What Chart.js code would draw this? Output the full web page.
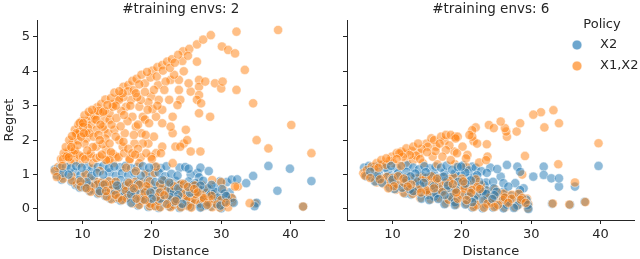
<!DOCTYPE html>
<html>
<head>
<meta charset="utf-8">
<script src="https://cdn.jsdelivr.net/npm/chart.js@4.4.0/dist/chart.umd.min.js"></script>
<style>
  html, body { margin: 0; padding: 0; background: #fff; }
  #wrap { position: relative; width: 640px; height: 259px; }
  #left { position: absolute; left: 0; top: 0; }
  #right { position: absolute; left: 330px; top: 0; }
</style>
</head>
<body>
<div id="wrap">
  <canvas id="left" width="330" height="259"></canvas>
  <canvas id="right" width="310" height="259"></canvas>
</div>
<script>
// data: [distance, regret]
const policies = ["X2", "X1,X2"];
const panelTitles = ["#training envs: 2", "#training envs: 6"];
const xTicks = [10, 20, 30, 40];
const yTicks = [0, 1, 2, 3, 4, 5];

// --- 2 training envs, policy X2 (blue)
const env2X2 = [
  [6.0,1.15],[6.8,1.2],[7.6,1.22],[8.3,1.18],[9.1,1.24],[9.9,1.2],[10.7,1.23],[11.4,1.17],[12.2,1.22],[13.0,1.25],
  [13.8,1.19],[14.6,1.23],[15.4,1.21],[16.2,1.25],[17.0,1.18],[17.9,1.22],[18.7,1.24],[19.6,1.2],[20.4,1.23],[21.3,1.19],
  [22.1,1.24],[24.0,1.2],[24.8,1.22],[25.3,1.17],[26.6,1.05],[27.0,1.2],[28.2,1.1],
  [6.3,0.98],[7.2,1.05],[8.0,1.0],[8.9,1.06],[9.7,0.98],[10.5,1.04],[11.3,0.96],[12.1,1.05],[13.0,1.0],[13.9,1.06],
  [14.8,0.97],[15.7,1.04],[16.6,0.99],[17.5,1.05],[18.4,0.97],[19.2,1.04],[20.1,0.99],[21.0,1.06],[21.9,0.95],[22.8,1.02],
  [23.7,0.97],[25.6,1.0],[26.8,0.92],
  [7.0,0.85],[8.4,0.8],[9.5,0.84],[10.6,0.78],[11.7,0.83],[12.6,0.76],[13.6,0.82],[14.6,0.77],[15.5,0.84],[16.5,0.78],
  [17.5,0.82],[18.5,0.76],[19.5,0.83],[20.5,0.78],[21.5,0.85],[22.5,0.77],[23.4,0.82],[24.4,0.74],[25.3,0.8],[26.3,0.75],
  [27.4,0.82],[28.6,0.7],[29.8,0.8],[30.8,0.78],
  [9.0,0.7],[11.0,0.68],[13.0,0.7],[15.0,0.68],[17.0,0.7],[19.0,0.68],[21.0,0.7],[23.0,0.68],[25.0,0.66],[27.0,0.68],[29.0,0.64],
  [10.0,0.75],[12.0,0.7],[14.0,0.72],[16.0,0.66],[18.0,0.72],[20.0,0.66],[22.0,0.72],[24.0,0.7],[26.0,0.7],
  [9.6,0.62],[10.4,0.62],[11.6,0.56],[12.8,0.62],[13.9,0.55],[15.0,0.6],[16.1,0.55],[17.2,0.62],[18.3,0.56],[19.4,0.6],
  [20.5,0.54],[21.6,0.62],[22.7,0.55],[23.8,0.6],[24.9,0.52],[25.9,0.6],[27.0,0.55],[28.0,0.6],[29.1,0.5],[30.1,0.58],[31.2,0.48],
  [11.0,0.52],[13.2,0.5],[15.4,0.48],[17.6,0.5],[19.8,0.48],[22.0,0.5],[24.2,0.47],[26.4,0.5],[28.6,0.46],[30.5,0.45],
  [12.5,0.52],[14.5,0.5],[16.6,0.46],[18.8,0.5],[21.0,0.47],[23.2,0.5],[25.5,0.47],[27.6,0.48],
  [12.2,0.44],[13.3,0.38],[14.6,0.43],[15.8,0.36],[17.0,0.42],[18.2,0.35],[19.3,0.41],[20.4,0.36],[21.6,0.42],[22.7,0.34],
  [23.8,0.4],[25.0,0.35],[26.1,0.41],[27.3,0.34],[28.4,0.4],[29.5,0.33],[30.7,0.38],[31.6,0.3],
  [14.0,0.3],[16.2,0.3],[18.8,0.28],[21.2,0.3],[23.6,0.28],[26.0,0.28],[28.6,0.27],[31.0,0.26],
  [15.0,0.3],[17.6,0.28],[20.0,0.3],[22.4,0.28],[24.8,0.3],[27.3,0.26],[29.8,0.28],
  [15.5,0.24],[17.0,0.18],[18.3,0.23],[19.6,0.17],[20.8,0.22],[22.0,0.16],[23.2,0.21],[24.4,0.15],[25.6,0.2],[26.8,0.14],
  [28.0,0.2],[29.2,0.15],[30.5,0.2],[31.8,0.18],
  [18.0,0.1],[20.3,0.1],[23.0,0.1],[25.0,0.11],[27.8,0.1],[29.9,0.1],
  [19.5,0.06],[21.0,0.03],[22.5,0.07],[24.0,0.03],[25.5,0.06],[27.0,0.04],[28.5,0.07],[30.0,0.02],
  [31.5,0.85],[32.3,0.86],[33.6,0.75],[34.6,0.96],[36.8,1.25],[38.1,0.53],[39.9,1.17],[43.0,0.81],[35.1,0.18],[34.8,0.08],[41.8,0.07]
];

// --- 2 training envs, policy X1,X2 (orange)
const env2X1X2 = [
  [6.5,1.22],[6.9,1.45],[7.3,1.62],[7.6,1.8],[8.1,2.0],[8.5,2.12],[8.9,2.3],[9.4,2.45],[9.9,2.55],[10.3,2.72],
  [10.9,2.82],[11.4,2.88],[12.1,2.95],[12.7,3.05],[13.3,3.18],[14.1,3.22],[14.6,3.38],[15.3,3.42],[15.9,3.55],[16.6,3.6],
  [17.2,3.72],[17.8,3.78],[18.5,3.9],[19.3,3.98],[20.1,4.02],[20.8,4.12],[21.5,4.18],[22.2,4.28],[22.9,4.35],[23.8,4.48],
  [24.5,4.58],[25.4,4.65],[26.5,4.78],[27.4,4.92],[28.5,5.05],
  [7.1,1.25],[7.6,1.55],[8.1,1.7],[8.6,1.92],[9.1,2.15],[9.6,2.25],[10.1,2.5],[10.6,2.55],[11.2,2.68],[11.7,2.72],
  [12.3,2.85],[13.0,2.82],[13.6,3.02],[14.4,3.05],[15.2,3.22],[15.9,3.25],[16.6,3.42],[17.4,3.45],[18.2,3.62],[19.0,3.65],
  [19.8,3.82],[20.7,3.85],[21.6,4.02],[22.6,4.1],[23.3,4.25],[24.4,4.3],[25.2,4.45],
  [12.5,2.78],[10.8,2.35],[9.6,2.5],[8.4,1.8],[8.2,1.52],[8.7,1.62],[10.3,1.9],[11.0,2.2],[11.5,1.8],[12.5,2.0],
  [13.4,1.72],[13.7,2.2],[14.6,2.3],[15.3,2.0],[14.9,2.64],[16.0,2.73],[16.3,2.97],[17.0,3.17],[17.2,2.68],[17.7,2.39],
  [18.4,3.17],[19.4,2.88],[19.9,3.27],[20.3,3.46],[21.0,3.17],[21.5,2.88],[21.8,3.46],[22.5,3.17],[22.7,3.75],[23.9,3.75],
  [23.9,3.46],[24.1,3.17],[23.7,3.02],[25.3,3.65],[25.6,3.41],[26.8,3.55],[26.8,3.31],[26.5,3.17],[27.1,3.07],[26.8,2.78],
  [26.8,3.75],[26.5,4.28],[27.7,3.7],[29.1,3.65],[30.0,3.5],[30.2,3.7],[30.1,4.72],[31.0,4.62],[32.0,4.52],[32.2,3.46],
  [32.2,5.15],[33.4,4.04],[34.6,3.07],[38.2,5.2],[40.1,2.44],[35.1,2.0],[36.8,1.76],[43.0,1.62],[28.4,2.68],[27.0,1.67],
  [25.6,1.67],[24.9,2.3],[25.1,2.0],[24.1,1.81],[23.4,1.81],[24.6,1.9],[23.0,2.2],[22.7,2.39],[21.5,1.81],[21.3,1.62],
  [20.6,1.62],[19.9,1.52],[19.1,2.15],[18.7,1.9],[17.5,1.9],[17.2,1.62],[16.8,1.42],[15.8,1.81],[14.9,1.52],[13.9,1.42],
  [13.4,1.42],[12.5,1.52],[12.0,1.81],[11.0,1.52],[10.1,1.52],[9.4,2.0],[9.1,2.2],[12.0,2.59],[13.2,2.59],[13.9,2.78],
  [14.4,2.97],[15.3,3.17],[15.8,3.36],[17.7,3.36],[18.2,2.97],[18.7,2.68],[19.6,2.49],[20.6,2.68],[23.0,2.68],[21.5,2.49],
  [13.9,2.59],[12.95,2.39],[12.0,2.3],[10.6,2.2],[10.1,2.39],[7.7,1.52],[9.6,1.33],[11.5,1.33],[14.4,1.33],[18.2,1.33],
  [20.6,1.23],[23.0,1.33],
  [7.9,1.6],[8.3,1.35],[8.9,1.7],[9.3,1.85],[9.8,2.1],[10.2,2.2],[10.6,2.05],[11.3,2.45],[11.8,2.6],[11.6,2.1],
  [12.3,2.15],[12.6,2.45],[13.1,2.3],[13.3,2.05],[13.9,1.9],[14.2,2.45],[14.8,2.1],[15.5,2.4],[15.6,2.85],[16.1,2.2],
  [16.5,2.55],[16.9,3.0],[17.4,2.15],[18.0,2.45],[18.5,2.2],[19.0,2.6],[19.5,3.1],[20.1,2.9],[20.8,3.0],[10.7,1.7],
  [9.2,1.6],[12.9,1.88],[14.1,1.65],[15.9,1.95],[16.6,1.75],[18.0,1.75],[19.5,1.9],[20.3,2.1],[13.2,2.85],[14.8,3.0],
  [17.9,3.25],[19.0,3.4],[20.9,3.6],[22.0,3.7],[23.2,3.9],[24.6,4.0],
  [7.2,1.45],[8.0,1.5],[8.8,1.42],[9.6,1.55],[10.4,1.45],[11.2,1.6],[12.0,1.48],[12.8,1.58],[13.6,1.45],[14.4,1.6],
  [15.2,1.5],[16.0,1.62],[16.8,1.45],[17.6,1.58],[18.4,1.5],[19.2,1.62],[20.0,1.45],
  [7.2,0.88],[8.5,0.83],[9.7,0.8],[10.8,0.8],[11.9,0.8],[12.8,0.78],[13.8,0.8],[14.8,0.79],[16.7,0.76],[17.7,0.8],
  [18.7,0.78],[19.7,0.8],[21.7,0.82],[22.7,0.75],[24.6,0.72],[26.5,0.73],[28.7,0.84],[30.0,0.78],
  [9.2,0.72],[11.2,0.66],[13.2,0.72],[15.2,0.66],[17.2,0.72],[19.2,0.66],[21.2,0.72],[23.2,0.66],[25.2,0.64],[27.2,0.7],
  [10.2,0.73],[12.2,0.72],[14.2,0.7],[16.2,0.68],[18.2,0.7],[20.2,0.68],[22.2,0.7],[24.2,0.72],[26.2,0.68],
  [9.8,0.64],[10.6,0.6],[11.8,0.58],[13.0,0.6],[14.1,0.53],[15.2,0.62],[16.3,0.53],[17.4,0.6],[18.5,0.58],[19.6,0.62],
  [21.8,0.6],[22.9,0.53],[24.0,0.58],[26.1,0.58],[27.2,0.53],[28.2,0.62],[30.3,0.56],[32.0,0.65],
  [11.2,0.5],[13.4,0.52],[15.6,0.46],[17.8,0.52],[20.0,0.46],[22.2,0.52],[24.4,0.45],[26.6,0.48],[28.8,0.44],
  [12.7,0.5],[14.7,0.52],[16.8,0.48],[19.0,0.48],[21.2,0.49],[23.4,0.48],[25.7,0.49],[27.8,0.46],
  [12.4,0.46],[13.5,0.36],[14.8,0.41],[16.0,0.38],[17.2,0.4],[18.4,0.33],[19.5,0.43],[20.6,0.34],[21.8,0.4],[22.9,0.36],
  [24.0,0.38],[25.2,0.33],[26.3,0.43],[27.5,0.32],[28.6,0.38],[29.7,0.35],[30.9,0.36],[31.5,0.32],
  [14.2,0.28],[16.4,0.32],[19.0,0.26],[21.4,0.28],[23.8,0.3],[26.2,0.26],[28.8,0.29],
  [15.2,0.32],[17.8,0.3],[20.2,0.28],[22.6,0.3],[25.0,0.28],[27.5,0.28],[30.0,0.26],
  [15.7,0.26],[17.2,0.16],[18.5,0.25],[19.8,0.15],[21.0,0.24],[22.2,0.14],[23.4,0.23],[24.6,0.13],[25.8,0.22],[27.0,0.16],
  [28.2,0.18],[29.4,0.13],[30.7,0.18],[31.6,0.2],
  [18.2,0.12],[20.5,0.08],[23.2,0.12],[25.2,0.09],[28.0,0.12],[30.1,0.08],
  [19.7,0.08],[21.2,0.05],[22.7,0.05],[24.2,0.05],[25.7,0.04],[27.2,0.06],[28.7,0.05],[29.8,0.04],[31.0,0.05],
  [6.0,1.1],[6.3,0.93],[7.0,0.97],[8.4,0.96],[11.0,0.9],[12.5,1.1],[16.3,1.2],[17.7,1.1],[19.1,1.02],[20.4,1.05],
  [10.4,1.0],[34.9,0.16],[41.8,0.07],[34.1,0.17],[32.4,0.65]
];

// --- 6 training envs, policy X2 (blue)
const env6X2 = [
  [5.9,1.2],[6.6,1.25],[7.4,1.22],[8.2,1.27],[9.0,1.2],[9.8,1.25],[10.6,1.18],[11.4,1.24],[12.2,1.27],[13.0,1.2],
  [13.8,1.15],[14.6,1.24],[15.4,1.18],[16.2,1.23],[17.0,1.2],[17.8,1.26],[18.6,1.14],[19.4,1.22],[20.2,1.27],[21.0,1.12],
  [22.0,1.2],[22.8,1.1],[23.6,1.05],
  [6.8,1.08],[8.0,1.05],[9.4,1.1],[10.8,1.04],[12.0,1.08],[13.3,1.03],[14.8,1.07],[16.0,1.02],[17.5,1.06],[19.0,1.03],
  [20.5,1.06],[22.2,0.98],
  [19.9,1.23],[21.5,1.23],[24.1,1.2],[25.1,1.16],[26.5,1.28],[28.0,1.23],[28.4,1.08],[25.6,0.94],[24.5,0.79],[26.0,0.75],
  [27.7,0.75],[26.7,0.65],[28.4,0.55],[28.9,0.6],[30.3,0.94],[31.8,1.23],[31.8,0.99],[32.9,0.89],[34.0,0.89],[34.0,0.65],
  [36.3,0.65],[39.7,1.25],[21.8,0.94],[22.5,0.79],[21.3,0.83],[23.2,0.69],[26.0,0.5],[19.9,0.99],
  [6.2,0.95],[7.0,0.92],[7.8,0.97],[8.6,0.9],[9.4,0.96],[10.2,0.93],[11.0,0.97],[11.8,0.91],[12.6,0.95],[13.4,0.9],
  [14.2,0.96],[15.0,0.92],[15.8,0.97],[16.6,0.9],[17.4,0.94],[18.2,0.9],[19.0,0.95],[21.0,0.9],
  [8.0,0.88],[10.0,0.85],[12.0,0.84],[14.0,0.85],[16.0,0.84],[18.0,0.83],[20.0,0.82],
  [7.5,0.8],[8.5,0.76],[9.5,0.8],[10.5,0.75],[11.5,0.79],[12.5,0.74],[13.5,0.8],[14.5,0.76],[15.5,0.79],[16.5,0.74],
  [17.5,0.8],[18.5,0.75],[19.5,0.79],[20.5,0.74],[23.5,0.77],
  [10.0,0.68],[12.0,0.67],[14.0,0.68],[16.0,0.66],[18.0,0.68],[20.0,0.66],[22.0,0.66],
  [9.6,0.62],[10.3,0.58],[11.4,0.62],[12.5,0.57],[13.6,0.61],[14.7,0.56],[15.8,0.62],[16.9,0.57],[18.0,0.61],[19.1,0.56],
  [20.2,0.62],[21.3,0.57],[22.4,0.6],[23.5,0.55],[24.6,0.6],
  [13.0,0.52],[15.0,0.5],[17.0,0.52],[19.0,0.5],[21.0,0.52],[23.0,0.5],[25.0,0.5],
  [11.8,0.45],[12.7,0.42],[13.9,0.46],[15.1,0.41],[16.3,0.45],[17.5,0.4],[18.7,0.44],[19.9,0.4],[21.1,0.45],[22.3,0.41],
  [23.5,0.44],[24.7,0.4],[25.9,0.43],[27.0,0.39],[28.0,0.42],
  [16.0,0.36],[18.5,0.35],[21.0,0.36],[23.5,0.35],[26.0,0.35],[28.5,0.34],
  [14.2,0.3],[15.3,0.26],[16.6,0.29],[17.9,0.25],[19.2,0.28],[20.5,0.24],[21.8,0.28],[23.1,0.25],[24.4,0.29],[25.7,0.24],
  [27.0,0.28],[28.3,0.25],[29.3,0.27],
  [19.0,0.2],[21.5,0.2],[24.0,0.2],[26.5,0.2],[29.0,0.2],
  [17.5,0.14],[19.0,0.11],[20.5,0.13],[22.0,0.1],[23.5,0.13],[25.0,0.1],[26.5,0.13],[28.0,0.1],[29.5,0.12],
  [21.5,0.04],[23.0,0.02],[24.5,0.04],[26.0,0.02],[27.5,0.03],[29.6,0.0],
  [33.0,0.15],[35.6,0.12],[37.7,0.21]
];

// --- 6 training envs, policy X1,X2 (orange)
const env6X1X2 = [
  [5.8,1.04],[6.3,1.13],[7.0,1.23],[7.7,1.33],[8.4,1.42],[9.1,1.47],[9.9,1.52],[10.6,1.62],[11.3,1.67],[12.0,1.76],
  [13.0,1.81],[13.7,1.9],[14.9,1.9],[15.6,2.05],[16.0,2.0],[17.0,2.1],[17.7,2.15],[18.4,2.15],[19.0,2.1],
  [15.1,1.81],[13.9,1.62],[12.5,1.57],[11.5,1.52],[11.0,1.62],[16.3,1.81],[15.8,1.52],[17.7,1.71],[17.2,1.52],[18.4,1.42],
  [20.6,1.47],[20.6,1.23],[14.4,1.33],[13.0,1.42],[10.1,1.33],[9.1,1.28],[8.0,1.2],[12.0,1.35],[16.5,1.3],[19.0,1.3],
  [8.6,1.3],[9.6,1.4],[10.6,1.45],[11.8,1.6],[12.8,1.68],[13.4,1.55],[14.2,1.75],[15.0,1.65],[16.8,1.9],[17.5,1.98],
  [18.2,1.85],[16.2,1.68],[14.0,1.45],[7.4,1.15],[11.2,1.25],
  [33.2,2.87],[31.4,2.81],[30.3,2.74],[31.9,2.37],[34.0,2.49],[28.4,2.49],[27.9,2.25],[26.5,2.1],[26.4,2.25],[26.2,2.35],
  [25.6,2.54],[24.6,2.35],[23.9,2.44],[22.0,2.37],[21.5,2.29],[21.5,2.1],[21.1,2.15],[19.4,2.1],[23.6,1.88],[21.7,1.97],
  [20.1,1.81],[20.8,1.57],[23.7,1.52],[23.5,1.42],[29.1,1.54],[33.9,1.3],[39.7,1.91],[28.7,1.0],[36.3,0.77],[19.1,2.05],
  [18.9,1.67],[22.2,1.9],[19.3,1.62],[22.5,1.35],
  [6.0,0.97],[6.8,0.9],[7.6,0.95],[8.4,0.88],[9.2,0.93],[10.0,0.9],[10.8,0.95],[11.6,0.88],[12.4,0.93],[13.2,0.88],
  [14.0,0.94],[14.8,0.9],[15.6,0.95],[16.4,0.88],[17.2,0.92],[18.0,0.87],[18.8,0.92],[20.0,0.88],[22.0,0.86],
  [8.2,0.86],[10.2,0.83],[12.2,0.82],[14.2,0.83],[16.2,0.82],[18.2,0.81],[20.2,0.8],
  [7.7,0.77],[8.7,0.73],[9.7,0.77],[10.7,0.72],[11.7,0.76],[12.7,0.71],[13.7,0.77],[14.7,0.73],[15.7,0.76],[16.7,0.71],
  [17.7,0.77],[18.7,0.72],[19.7,0.76],[20.7,0.71],[21.7,0.75],[22.7,0.7],
  [10.2,0.66],[12.2,0.65],[14.2,0.66],[16.2,0.64],[18.2,0.66],[20.2,0.64],[22.2,0.64],
  [9.4,0.6],[10.5,0.56],[11.6,0.6],[12.7,0.55],[13.8,0.59],[14.9,0.54],[16.0,0.6],[17.1,0.55],[18.2,0.59],[19.3,0.54],
  [20.4,0.6],[21.5,0.55],[22.6,0.58],[23.7,0.53],[24.8,0.57],
  [13.2,0.5],[15.2,0.48],[17.2,0.5],[19.2,0.48],[21.2,0.5],[23.2,0.48],[25.2,0.48],
  [11.6,0.47],[12.9,0.44],[14.1,0.48],[15.3,0.43],[16.5,0.47],[17.7,0.42],[18.9,0.46],[20.1,0.42],[21.3,0.47],[22.5,0.43],
  [23.7,0.46],[24.9,0.42],[26.1,0.45],[27.2,0.41],[28.2,0.44],
  [16.2,0.34],[18.7,0.33],[21.2,0.34],[23.7,0.33],[26.2,0.33],[28.7,0.32],
  [14.0,0.32],[15.5,0.28],[16.8,0.31],[18.1,0.27],[19.4,0.3],[20.7,0.26],[22.0,0.3],[23.3,0.27],[24.6,0.31],[25.9,0.26],
  [27.2,0.3],[28.5,0.27],[29.4,0.3],
  [19.2,0.18],[21.7,0.18],[24.2,0.18],[26.7,0.18],[29.2,0.18],
  [17.7,0.16],[19.2,0.13],[20.7,0.15],[22.2,0.12],[23.7,0.15],[25.2,0.12],[26.7,0.15],[28.2,0.12],[29.6,0.14],
  [21.7,0.06],[23.2,0.04],[24.7,0.06],[26.2,0.04],[27.7,0.05],[29.5,0.02],
  [33.1,0.16],[35.5,0.13],[37.8,0.2]
];

const blue = "rgba(31,119,180,0.5)";
const orange = "rgba(255,127,14,0.5)";
const edge = "rgba(255,255,255,0.6)";
const ink = "#262626";
const font = "'DejaVu Sans', sans-serif";
const layers = 6; // the two policies are drawn interleaved, like the original plot

function toPoints(arr, k) {
  return arr.filter((p, i) => i % layers === k).map(p => ({ x: p[0], y: p[1] }));
}

function makeDatasets(x2, x1x2) {
  const sets = [];
  let drawn = 0;
  for (let k = 0; k < layers; k++) {
    [[x2, blue, policies[0]], [x1x2, orange, policies[1]]].forEach(([arr, col, name]) => {
      sets.push({
        label: name,
        data: toPoints(arr, k),
        backgroundColor: col,
        borderColor: edge,
        borderWidth: 0.8,
        pointRadius: 4.6,
        pointHoverRadius: 4.6,
        order: 2 * layers - drawn // higher order is painted first
      });
      drawn++;
    });
  }
  return sets;
}

function makeOptions(title, showY, yWidth, padRight) {
  return {
    responsive: false,
    animation: false,
    devicePixelRatio: 1,
    layout: { padding: { left: 0, right: padRight, top: 0, bottom: 0 } },
    plugins: {
      legend: { display: false },
      tooltip: { enabled: false },
      title: {
        display: true,
        text: title,
        fullSize: false,
        color: ink,
        font: { family: font, size: 13.5, weight: 'normal' },
        padding: { top: 1.5, bottom: 2.3 }
      }
    },
    scales: {
      x: {
        type: 'linear',
        min: 3.45,
        max: 44.9,
        afterBuildTicks: s => { s.ticks = xTicks.map(v => ({ value: v })); },
        afterFit: s => { s.height = 39; },
        ticks: { color: ink, font: { family: font, size: 13 }, padding: 3 },
        grid: { drawOnChartArea: false, drawTicks: true, tickLength: 4, color: ink, tickWidth: 1 },
        border: { display: true, color: ink, width: 1 },
        title: { display: true, text: 'Distance', color: ink, font: { family: font, size: 13 }, padding: { top: 0, bottom: 0 } }
      },
      y: {
        type: 'linear',
        min: -0.32,
        max: 5.49,
        afterBuildTicks: s => { s.ticks = yTicks.map(v => ({ value: v })); },
        afterFit: s => { s.width = yWidth; },
        ticks: {
          color: ink,
          font: { family: font, size: 13 },
          padding: 3,
          callback: v => showY ? String(v) : ''
        },
        grid: { drawOnChartArea: false, drawTicks: true, tickLength: 4, color: ink, tickWidth: 1 },
        border: { display: true, color: ink, width: 1 },
        title: { display: showY, text: 'Regret', color: ink, font: { family: font, size: 13 }, padding: { top: 2, bottom: 0 } }
      }
    }
  };
}

// legend drawn inside the right panel, like seaborn puts it
const policyLegend = {
  id: 'policyLegend',
  afterDraw(chart) {
    const ctx = chart.ctx;
    ctx.save();
    ctx.fillStyle = ink;
    ctx.font = "13px " + font;
    ctx.textAlign = 'center';
    ctx.textBaseline = 'middle';
    ctx.fillText('Policy', 272, 25);
    const cols = [blue, orange];
    policies.forEach((name, i) => {
      const y = 45 + i * 21;
      ctx.beginPath();
      ctx.arc(247, y, 5, 0, Math.PI * 2);
      ctx.fillStyle = cols[i].replace('0.5)', '0.65)');
      ctx.fill();
      ctx.lineWidth = 1;
      ctx.strokeStyle = 'rgba(255,255,255,0.7)';
      ctx.stroke();
      ctx.fillStyle = ink;
      ctx.textAlign = 'left';
      ctx.fillText(name, 270, y);
    });
    ctx.restore();
  }
};

new Chart(document.getElementById('left'), {
  type: 'scatter',
  data: { datasets: makeDatasets(env2X2, env2X1X2) },
  options: makeOptions(panelTitles[0], true, 37, 3)
});

new Chart(document.getElementById('right'), {
  type: 'scatter',
  data: { datasets: makeDatasets(env6X2, env6X1X2) },
  options: makeOptions(panelTitles[1], false, 17, 2),
  plugins: [policyLegend]
});
</script>
</body>
</html>
